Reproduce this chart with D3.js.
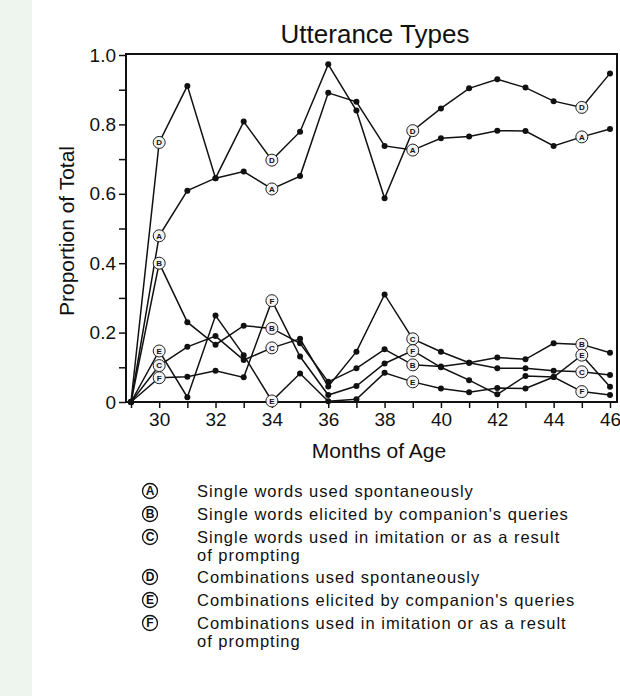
<!DOCTYPE html>
<html>
<head>
<meta charset="utf-8">
<script src="https://cdn.jsdelivr.net/npm/d3@7"></script>
<style>
  body { margin: 0; background: #fff; }
  svg { display: block; }
  text { font-family: "Liberation Sans", Arial, sans-serif; fill: #111; }
</style>
</head>
<body>
<svg id="chart" width="620" height="696"></svg>
<script>
// months of age on the x axis
let months = [29, 30, 31, 32, 33, 34, 35, 36, 37, 38, 39, 40, 41, 42, 43, 44, 45, 46];

// proportion of total, one array per utterance type
let seriesA = [0, 0.479, 0.609, 0.645, 0.664, 0.614, 0.651, 0.891, 0.865, 0.738, 0.726, 0.760, 0.765, 0.782, 0.781, 0.738, 0.764, 0.787];
let seriesB = [0, 0.400, 0.230, 0.165, 0.220, 0.212, 0.169, 0.058, 0.097, 0.152, 0.107, 0.102, 0.113, 0.128, 0.123, 0.169, 0.166, 0.142];
let seriesC = [0, 0.105, 0.159, 0.190, 0.121, 0.156, 0.182, 0.045, 0.145, 0.310, 0.182, 0.145, 0.113, 0.097, 0.097, 0.090, 0.087, 0.078];
let seriesD = [0, 0.748, 0.911, 0.645, 0.808, 0.697, 0.779, 0.973, 0.840, 0.587, 0.782, 0.846, 0.904, 0.930, 0.906, 0.867, 0.849, 0.947];
let seriesE = [0, 0.147, 0.014, 0.249, 0.135, 0.003, 0.082, 0.002, 0.008, 0.084, 0.058, 0.039, 0.028, 0.040, 0.039, 0.072, 0.135, 0.044];
let seriesF = [0, 0.070, 0.073, 0.090, 0.071, 0.292, 0.131, 0.020, 0.046, 0.111, 0.148, 0.100, 0.063, 0.022, 0.075, 0.072, 0.030, 0.020];

let letters = ['A', 'B', 'C', 'D', 'E', 'F'];
let labelMonths = [30, 34, 39, 45];   // where the lettered circles sit

let legendLines = [
  ['Single words used spontaneously'],
  ["Single words elicited by companion's queries"],
  ['Single words used in imitation or as a result', 'of prompting'],
  ['Combinations used spontaneously'],
  ["Combinations elicited by companion's queries"],
  ['Combinations used in imitation or as a result', 'of prompting']
];

let yTicks = [0, 0.1, 0.2, 0.3, 0.4, 0.5, 0.6, 0.7, 0.8, 0.9, 1.0];
let yTickLabels = ['0', '', '0.2', '', '0.4', '', '0.6', '', '0.8', '', '1.0'];
let xTickLabels = [30, 32, 34, 36, 38, 40, 42, 44, 46];

let allSeries = [seriesA, seriesB, seriesC, seriesD, seriesE, seriesF];

let svg = d3.select('#chart');

// pale strip at the left edge of the page
svg.append('rect')
  .attr('x', 0).attr('y', 0).attr('width', 32).attr('height', 696)
  .attr('fill', '#eef4ee');

let x = d3.scaleLinear().domain([29, 46]).range([131, 610]);
let y = d3.scaleLinear().domain([0, 1]).range([402, 55]);

let frameLeft = 126, frameRight = 617, frameTop = 54, frameBottom = 402;

// frame
svg.append('rect')
  .attr('x', frameLeft).attr('y', frameTop)
  .attr('width', frameRight - frameLeft).attr('height', frameBottom - frameTop)
  .attr('fill', 'none').attr('stroke', '#111').attr('stroke-width', 2);

// y axis
let yAxis = svg.append('g')
  .attr('transform', 'translate(' + frameLeft + ',0)')
  .call(d3.axisLeft(y)
    .tickValues(yTicks)
    .tickSize(7)
    .tickSizeOuter(0)
    .tickPadding(3)
    .tickFormat(function(d, i) { return yTickLabels[i]; }));
yAxis.select('.domain').remove();
yAxis.selectAll('line').attr('stroke', '#111').attr('stroke-width', 1.5);
yAxis.selectAll('text').attr('font-size', 19).attr('font-family', '"Liberation Sans", Arial, sans-serif');

// x axis
let xAxis = svg.append('g')
  .attr('transform', 'translate(0,' + frameBottom + ')')
  .call(d3.axisBottom(x)
    .tickValues(months)
    .tickSize(6)
    .tickSizeOuter(0)
    .tickPadding(5)
    .tickFormat(function(d) { return xTickLabels.indexOf(d) >= 0 ? d : ''; }));
xAxis.select('.domain').remove();
xAxis.selectAll('line').attr('stroke', '#111').attr('stroke-width', 1.5);
xAxis.selectAll('text').attr('font-size', 19).attr('font-family', '"Liberation Sans", Arial, sans-serif');

// titles
svg.append('text')
  .attr('x', 375).attr('y', 43)
  .attr('text-anchor', 'middle')
  .attr('font-size', 26)
  .text('Utterance Types');

svg.append('text')
  .attr('x', 379).attr('y', 458)
  .attr('text-anchor', 'middle')
  .attr('font-size', 21)
  .text('Months of Age');

svg.append('text')
  .attr('transform', 'translate(74,231) rotate(-90)')
  .attr('text-anchor', 'middle')
  .attr('font-size', 21)
  .text('Proportion of Total');

// lines
let line = d3.line()
  .x(function(d, i) { return x(months[i]); })
  .y(function(d) { return y(d); });

svg.append('g')
  .selectAll('path')
  .data(allSeries)
  .join('path')
  .attr('d', line)
  .attr('fill', 'none')
  .attr('stroke', '#111')
  .attr('stroke-width', 1.5);

// black dots and lettered circles
allSeries.forEach(function(s, k) {
  let pts = s.map(function(v, i) { return {m: months[i], v: v}; });

  svg.append('g')
    .selectAll('circle')
    .data(pts.filter(function(p) { return labelMonths.indexOf(p.m) < 0; }))
    .join('circle')
    .attr('cx', function(d) { return x(d.m); })
    .attr('cy', function(d) { return y(d.v); })
    .attr('r', 3)
    .attr('fill', '#111');

  let mk = svg.append('g')
    .selectAll('g')
    .data(pts.filter(function(p) { return labelMonths.indexOf(p.m) >= 0; }))
    .join('g')
    .attr('transform', function(d) { return 'translate(' + x(d.m) + ',' + y(d.v) + ')'; });
  mk.append('circle')
    .attr('r', 6)
    .attr('fill', '#f2f2f2')
    .attr('stroke', '#222')
    .attr('stroke-width', 1);
  mk.append('text')
    .attr('text-anchor', 'middle')
    .attr('dy', '0.36em')
    .attr('font-size', 8)
    .attr('font-weight', 'bold')
    .text(letters[k]);
});

// legend
let legendY = [491, 514, 537, 577, 600, 623];
let legend = svg.append('g')
  .selectAll('g')
  .data(letters)
  .join('g')
  .attr('transform', function(d, i) { return 'translate(0,' + legendY[i] + ')'; });

legend.append('circle')
  .attr('cx', 150).attr('cy', 0).attr('r', 7.5)
  .attr('fill', 'none').attr('stroke', '#111').attr('stroke-width', 1.3);
legend.append('text')
  .attr('x', 150).attr('y', 0)
  .attr('dy', '0.36em')
  .attr('text-anchor', 'middle')
  .attr('font-size', 12)
  .attr('font-weight', 'bold')
  .text(function(d) { return d; });

legend.each(function(d, i) {
  let g = d3.select(this);
  legendLines[i].forEach(function(t, j) {
    g.append('text')
      .attr('x', 197)
      .attr('y', 6 + j * 17.5)
      .attr('font-size', 16.5)
      .attr('letter-spacing', 1)
      .text(t);
  });
});
</script>
</body>
</html>
